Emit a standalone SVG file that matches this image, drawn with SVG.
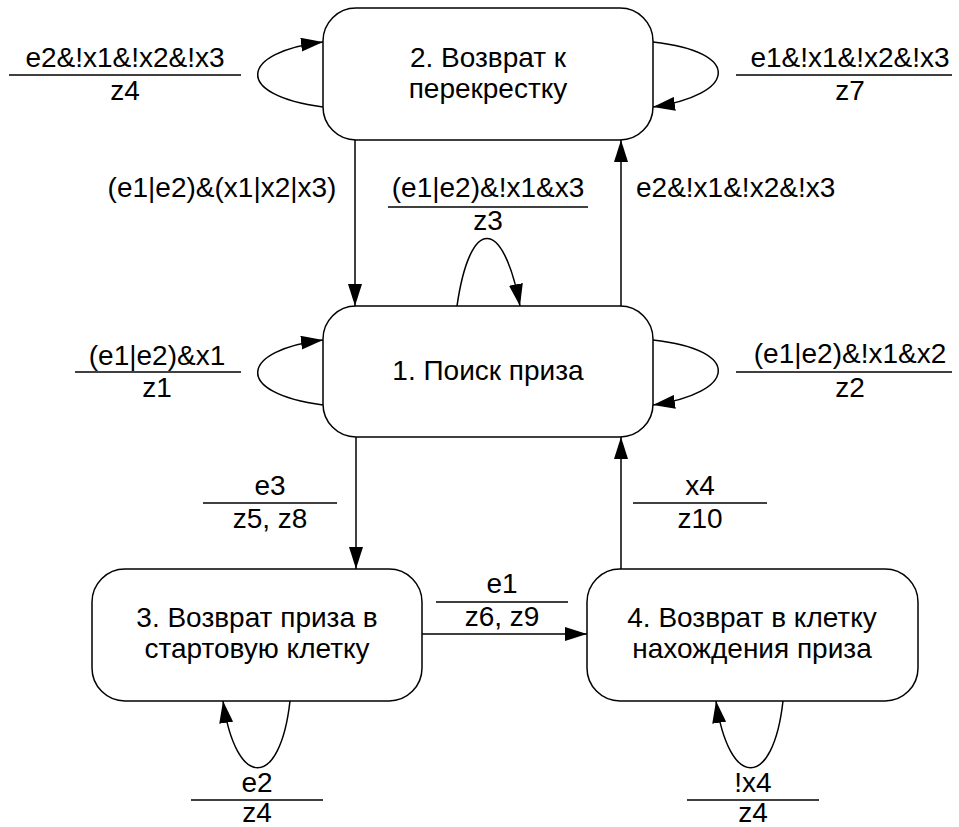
<svg xmlns="http://www.w3.org/2000/svg" width="959" height="827" viewBox="0 0 959 827">
<style>
.node{fill:#fff;stroke:#000;stroke-width:1.5}
.t{font-family:"Liberation Sans",Arial,sans-serif;font-size:28px;fill:#000;text-anchor:middle}
.s{text-anchor:start}
.c{fill:none;stroke:#000;stroke-width:1.5}
.c.a{marker-end:url(#arr)}
.bar{stroke:#000;stroke-width:1.5}
</style>
<defs>
<marker id="arr" markerUnits="userSpaceOnUse" viewBox="0 0 22 14" refX="22" refY="7" markerWidth="22" markerHeight="14" orient="auto">
<path d="M0,0 L22,7 L0,14 z" fill="#000"/>
</marker>
</defs>
<rect width="959" height="827" fill="#fff"/>
<g id="connectors">
<path class="c a" d="M355,140 V306"/>
<path class="c a" d="M621,306 V140"/>
<path class="c a" d="M356,437 V569"/>
<path class="c a" d="M621,569 V437"/>
<path class="c a" d="M422,634 H587"/>
<path class="c a" d="M323,107 C232,95 240,52 323,42"/>
<path class="c a" d="M653,42 C744,52 736,95 653,107"/>
<path class="c a" d="M323,405 C232,393 240,350 323,340"/>
<path class="c a" d="M653,340 C744,350 736,393 653,405"/>
<path class="c a" d="M457,306 C470,216 503,216 520,306"/>
<path class="c a" d="M290,701 C280,790 236,790 223,701"/>
<path class="c a" d="M783,701 C773,790 729,790 716,701"/>
</g>
<g id="labels">
<line class="bar" x1="9" y1="75" x2="241" y2="75"/>
<text class="t" x="125" y="67">e2&amp;!x1&amp;!x2&amp;!x3</text>
<text class="t" x="125" y="100">z4</text>
<line class="bar" x1="736" y1="75" x2="952" y2="75"/>
<text class="t" x="850" y="67">e1&amp;!x1&amp;!x2&amp;!x3</text>
<text class="t" x="850" y="100">z7</text>
<text class="t" x="222" y="197">(e1|e2)&amp;(x1|x2|x3)</text>
<line class="bar" x1="388" y1="207" x2="588" y2="207"/>
<text class="t" x="488" y="197">(e1|e2)&amp;!x1&amp;x3</text>
<text class="t" x="488" y="230">z3</text>
<text class="t s" x="636" y="197">e2&amp;!x1&amp;!x2&amp;!x3</text>
<line class="bar" x1="75" y1="372" x2="241" y2="372"/>
<text class="t" x="157" y="365">(e1|e2)&amp;x1</text>
<text class="t" x="157" y="397">z1</text>
<line class="bar" x1="736" y1="372" x2="952" y2="372"/>
<text class="t" x="850" y="363">(e1|e2)&amp;!x1&amp;x2</text>
<text class="t" x="850" y="397">z2</text>
<line class="bar" x1="203" y1="503" x2="337" y2="503"/>
<text class="t" x="270" y="495">e3</text>
<text class="t" x="270" y="528">z5, z8</text>
<line class="bar" x1="633" y1="503" x2="767" y2="503"/>
<text class="t" x="700" y="495">x4</text>
<text class="t" x="700" y="528">z10</text>
<line class="bar" x1="436" y1="602" x2="568" y2="602"/>
<text class="t" x="502" y="593">e1</text>
<text class="t" x="502" y="626">z6, z9</text>
<line class="bar" x1="191" y1="800" x2="323" y2="800"/>
<text class="t" x="257" y="792">e2</text>
<text class="t" x="257" y="822">z4</text>
<line class="bar" x1="687" y1="800" x2="819" y2="800"/>
<text class="t" x="753" y="792">!x4</text>
<text class="t" x="753" y="822">z4</text>
</g>
<g id="node2">
<rect class="node" x="323" y="8" width="330" height="132" rx="33"/>
<text class="t" x="488" y="67">2. Возврат к</text>
<text class="t" x="488" y="98">перекрестку</text>
</g>
<g id="node1">
<rect class="node" x="323" y="306" width="330" height="131" rx="33"/>
<text class="t" x="488" y="380">1. Поиск приза</text>
</g>
<g id="node3">
<rect class="node" x="92" y="569" width="330" height="132" rx="33"/>
<text class="t" x="257" y="627">3. Возврат приза в</text>
<text class="t" x="257" y="658">стартовую клетку</text>
</g>
<g id="node4">
<rect class="node" x="587" y="569" width="331" height="132" rx="33"/>
<text class="t" x="752" y="627">4. Возврат в клетку</text>
<text class="t" x="752" y="658">нахождения приза</text>
</g>
</svg>
